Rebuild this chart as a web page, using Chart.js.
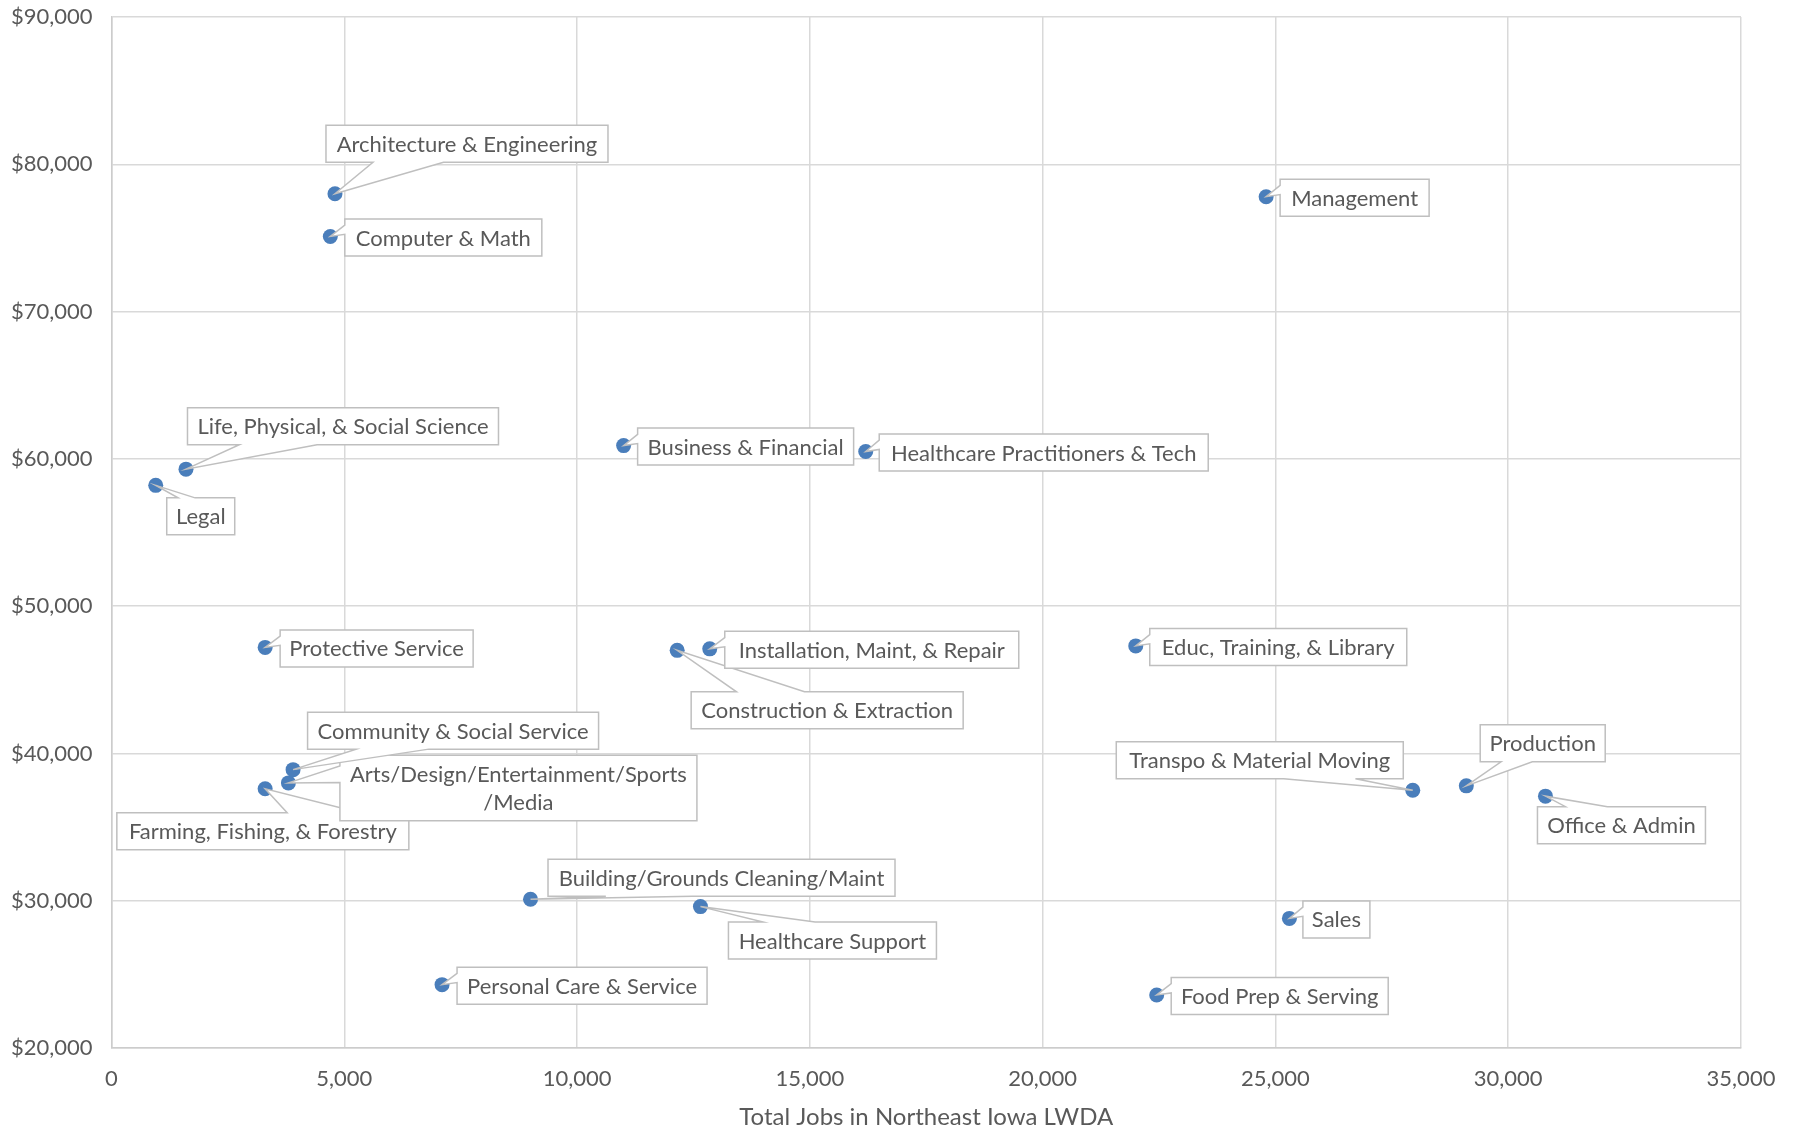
<!DOCTYPE html>
<html>
<head>
<meta charset="utf-8">
<title>Total Jobs vs Wage - Northeast Iowa LWDA</title>
<script src="https://cdn.jsdelivr.net/npm/chart.js@4.4.0/dist/chart.umd.min.js"></script>
<style>
  html, body { margin: 0; padding: 0; background: #ffffff; }
  #wrap { width: 1802px; height: 1135px; }
</style>
</head>
<body>
<div id="wrap"><canvas id="jobsChart" width="1802" height="1135"></canvas></div>
<script>
const occupations = [
    ['Legal'],
    ['Life, Physical, & Social Science'],
    ['Farming, Fishing, & Forestry'],
    ['Protective Service'],
    ['Arts/Design/Entertainment/Sports', '/Media'],
    ['Community & Social Service'],
    ['Computer & Math'],
    ['Architecture & Engineering'],
    ['Personal Care & Service'],
    ['Building/Grounds Cleaning/Maint'],
    ['Business & Financial'],
    ['Construction & Extraction'],
    ['Healthcare Support'],
    ['Installation, Maint, & Repair'],
    ['Healthcare Practitioners & Tech'],
    ['Educ, Training, & Library'],
    ['Food Prep & Serving'],
    ['Management'],
    ['Sales'],
    ['Transpo & Material Moving'],
    ['Production'],
    ['Office & Admin']
];
const totalJobs = [
    950, 1600, 3300, 3300, 3800, 3900, 4700, 4800, 7100, 9000, 11000,
    12150, 12650, 12850, 16200, 22000, 22450, 24800, 25300, 27950, 29100, 30800
];
const wages = [
    58200, 59300, 37600, 47200, 38000, 38900, 75100, 78000, 24300, 30100, 60900,
    47000, 29600, 47100, 60500, 47300, 23600, 77800, 28800, 37500, 37800, 37100
];
const xTicks = [0, 5000, 10000, 15000, 20000, 25000, 30000, 35000];
const yTicks = [20000, 30000, 40000, 50000, 60000, 70000, 80000, 90000];

// callout box placement relative to its point: [dx, dy, width, height] in px
const calloutLayout = [
    [45, 31, 68, 37],
    [157, -43, 311, 37],
    [-2.3, 42.5, 292, 37],
    [111.5, 1, 193, 37],
    [230, 5, 357, 65.5],
    [160, -39, 291, 37],
    [113, 1, 197, 37],
    [132, -50, 282, 37],
    [140, 1, 250, 37],
    [191, -21.5, 347, 37],
    [122, 1, 216, 37],
    [150, 60, 272, 37],
    [132, 34, 208, 37],
    [162, 1, 294, 37],
    [178, 1, 329, 37],
    [142.5, 1, 257, 37],
    [123, 1, 217, 37],
    [88.5, 1, 149, 37],
    [47, 1, 67, 37],
    [-153, -30, 287, 37],
    [76.4, -42.5, 125, 37],
    [76, 29, 168, 37]
];

const FONT = 'Lato, "Open Sans", sans-serif';
const TEXT_COLOR = '#595959';

// Excel style wedgeRectCallout outline
function wedgePath(ctx, l, t, r, b, px, py) {
    const w = r - l, h = b - t;
    const hc = (l + r) / 2, vc = (t + b) / 2;
    const dxPos = px - hc, dyPos = py - vc;
    const dq = dxPos * h / w;
    const dz = Math.abs(dyPos) - Math.abs(dq);
    const x1 = l + w * (dxPos > 0 ? 7 : 2) / 12;
    const x2 = l + w * (dxPos > 0 ? 10 : 5) / 12;
    const y1 = t + h * (dyPos > 0 ? 7 : 2) / 12;
    const y2 = t + h * (dyPos > 0 ? 10 : 5) / 12;
    const xl = dz > 0 ? l : (dxPos > 0 ? l : px);
    const yl = dz > 0 ? y1 : (dxPos > 0 ? y1 : py);
    const xt = dz > 0 ? (dyPos > 0 ? x1 : px) : x1;
    const yt = dz > 0 ? (dyPos > 0 ? t : py) : t;
    const xr = dz > 0 ? r : (dxPos > 0 ? px : r);
    const yr = dz > 0 ? y1 : (dxPos > 0 ? py : y1);
    const xb = dz > 0 ? (dyPos > 0 ? px : x1) : x1;
    const yb = dz > 0 ? (dyPos > 0 ? py : b) : b;
    ctx.beginPath();
    ctx.moveTo(l, t);
    ctx.lineTo(x1, t); ctx.lineTo(xt, yt); ctx.lineTo(x2, t);
    ctx.lineTo(r, t);
    ctx.lineTo(r, y1); ctx.lineTo(xr, yr); ctx.lineTo(r, y2);
    ctx.lineTo(r, b);
    ctx.lineTo(x2, b); ctx.lineTo(xb, yb); ctx.lineTo(x1, b);
    ctx.lineTo(l, b);
    ctx.lineTo(l, y2); ctx.lineTo(xl, yl); ctx.lineTo(l, y1);
    ctx.closePath();
}

const calloutPlugin = {
    id: 'callouts',
    afterDatasetsDraw(chart) {
        const ctx = chart.ctx;
        const meta = chart.getDatasetMeta(0);
        ctx.save();
        ctx.font = '22px ' + FONT;
        ctx.textAlign = 'center';
        ctx.textBaseline = 'middle';
        meta.data.forEach((pt, i) => {
            const [dx, dy, w, h] = calloutLayout[i];
            const cx = pt.x + dx, cy = pt.y + dy;
            const l = cx - w / 2, t = cy - h / 2;
            wedgePath(ctx, l, t, l + w, t + h, pt.x, pt.y);
            ctx.fillStyle = '#ffffff';
            ctx.fill();
            ctx.strokeStyle = '#bfbfbf';
            ctx.lineWidth = 1.5;
            ctx.stroke();
            const lines = occupations[i];
            const lh = 28;
            ctx.fillStyle = TEXT_COLOR;
            lines.forEach((line, k) => {
                const y = cy + (k - (lines.length - 1) / 2) * lh + 1;
                ctx.fillText(line, cx, y);
            });
        });
        ctx.restore();
    }
};

const points = totalJobs.map((x, i) => ({ x: x, y: wages[i] }));

new Chart(document.getElementById('jobsChart'), {
    type: 'scatter',
    data: {
        datasets: [{
            data: points,
            backgroundColor: '#4a7ebb',
            borderWidth: 0,
            pointRadius: 7.5,
            pointHoverRadius: 7.5
        }]
    },
    options: {
        responsive: false,
        animation: false,
        devicePixelRatio: 1,
        layout: { padding: { left: 0, top: 17, right: 61, bottom: 0 } },
        plugins: {
            legend: { display: false },
            tooltip: { enabled: false }
        },
        scales: {
            x: {
                type: 'linear',
                min: 0,
                max: 35000,
                afterBuildTicks: scale => { scale.ticks = xTicks.map(v => ({ value: v })); },
                afterFit: scale => { scale.height = 87; },
                ticks: {
                    callback: v => v.toLocaleString('en-US'),
                    color: TEXT_COLOR,
                    font: { family: FONT, size: 22 },
                    padding: 18,
                    maxRotation: 0
                },
                grid: { color: '#d9d9d9', lineWidth: 1.5, drawTicks: false },
                border: { color: '#cccccc', width: 1.5 },
                title: {
                    display: true,
                    text: 'Total Jobs in Northeast Iowa LWDA',
                    color: TEXT_COLOR,
                    font: { family: FONT, size: 24 },
                    padding: { top: 0, bottom: 3 }
                }
            },
            y: {
                type: 'linear',
                min: 20000,
                max: 90000,
                afterBuildTicks: scale => { scale.ticks = yTicks.map(v => ({ value: v })); },
                afterFit: scale => {
                    scale.width = 111.5;
                    scale.paddingTop = 0;
                    scale.paddingBottom = 0;
                },
                ticks: {
                    callback: v => '$' + v.toLocaleString('en-US'),
                    color: TEXT_COLOR,
                    font: { family: FONT, size: 22 },
                    padding: 19
                },
                grid: { color: '#d9d9d9', lineWidth: 1.5, drawTicks: false },
                border: { color: '#cccccc', width: 1.5 }
            }
        }
    },
    plugins: [calloutPlugin]
});
</script>
</body>
</html>
